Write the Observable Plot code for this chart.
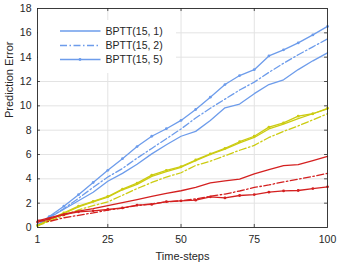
<!DOCTYPE html>
<html>
<head>
<meta charset="utf-8">
<script src="https://cdn.jsdelivr.net/npm/d3@7"></script>
<script src="https://cdn.jsdelivr.net/npm/@observablehq/plot@0.6"></script>
<style>
  html, body { margin: 0; padding: 0; background: #fff; }
  svg { font-family: "Liberation Sans", Arial, sans-serif; }
</style>
</head>
<body>
<div id="chart"></div>
<script>
const steps = [1,5,10,15,20,25,30,35,40,45,50,55,60,65,70,75,80,85,90,95,100];
const xTicks = [1,25,50,75,100];
const yTicks = [0,2,4,6,8,10,12,14,16,18];
const legendLabels = ["BPTT(15, 1)", "BPTT(15, 2)", "BPTT(15, 5)"];

const blue1   = [0.2,0.8,1.5,2.2,2.9,3.8,4.45,5.2,6.05,6.8,7.5,7.9,8.8,9.84,10.15,11.0,11.75,12.14,12.98,13.7,14.35];
const blue2   = [0.2,0.85,1.55,2.4,3.3,4.15,4.85,5.7,6.5,7.3,8.1,9.0,9.8,10.55,11.3,11.95,12.75,13.5,14.2,14.85,15.5];
const blue5   = [0.2,0.9,1.75,2.7,3.7,4.7,5.66,6.65,7.5,8.12,8.8,9.7,10.71,11.75,12.49,12.97,14.1,14.6,15.17,15.83,16.53];
const yellow1 = [0.15,0.6,1.15,1.7,2.1,2.5,3.1,3.55,4.2,4.6,4.95,5.5,6.0,6.45,6.95,7.4,8.1,8.5,8.95,9.35,9.75];
const yellow2 = [0.15,0.5,1.0,1.45,1.8,2.1,2.65,3.2,3.7,4.15,4.5,5.1,5.45,5.9,6.35,6.75,7.4,7.9,8.35,8.85,9.35];
const yellow5 = [0.15,0.65,1.2,1.75,2.15,2.55,3.15,3.65,4.3,4.7,5.0,5.55,6.05,6.5,7.05,7.5,8.25,8.6,9.15,9.35,9.8];
const red1    = [0.55,0.8,1.1,1.35,1.55,1.8,2.05,2.3,2.55,2.8,3.02,3.3,3.66,3.83,3.97,4.4,4.76,5.09,5.17,5.5,5.85];
const red2    = [0.6,0.5,0.8,1.0,1.2,1.43,1.6,1.8,1.95,2.1,2.2,2.35,2.57,2.75,3.0,3.29,3.5,3.75,3.97,4.2,4.45];
const red5    = [0.45,0.7,1.05,1.29,1.37,1.48,1.61,1.84,1.9,2.12,2.19,2.25,2.52,2.43,2.63,2.71,2.9,3.01,3.04,3.2,3.34];

const BLUE = "#6d9ceb", YELLOW = "#cccc12", RED = "#d42020";
const DASHDOT = "7,2.5,1.5,2.5";
const INK = "#262626";

const seriesDefs = [
  {vals: blue1, color: BLUE, style: "solid"},
  {vals: blue2, color: BLUE, style: "dashdot"},
  {vals: blue5, color: BLUE, style: "marker"},
  {vals: yellow1, color: YELLOW, style: "solid"},
  {vals: yellow2, color: YELLOW, style: "dashdot"},
  {vals: yellow5, color: YELLOW, style: "marker"},
  {vals: red1, color: RED, style: "solid"},
  {vals: red2, color: RED, style: "dashdot"},
  {vals: red5, color: RED, style: "marker"}
];

const toRows = (vals) => steps.map((s, i) => ({x: s, y: vals[i]}));

const lineMarks = [];
for (const s of seriesDefs) {
  const rows = toRows(s.vals);
  lineMarks.push(Plot.line(rows, {
    x: "x", y: "y", stroke: s.color, strokeWidth: 1.3,
    strokeDasharray: s.style === "dashdot" ? DASHDOT : null
  }));
  if (s.style === "marker") {
    lineMarks.push(Plot.dot(rows, {x: "x", y: "y", r: 1.4, fill: s.color, stroke: "none"}));
  }
}

const innerX = [25, 50, 75];
const innerY = [2,4,6,8,10,12,14,16];

const chart = Plot.plot({
  width: 339,
  height: 263,
  marginLeft: 37,
  marginRight: 12,
  marginTop: 8,
  marginBottom: 36,
  style: {fontFamily: "Liberation Sans, Arial, sans-serif", fontSize: "10.5px", color: INK, background: "#fff"},
  x: {domain: [1, 100]},
  y: {domain: [0, 18]},
  marks: [
    Plot.gridX(innerX, {stroke: "#e3e3e3", strokeOpacity: 1, strokeWidth: 1}),
    Plot.gridY(innerY, {stroke: "#e3e3e3", strokeOpacity: 1, strokeWidth: 1}),
    Plot.axisX(xTicks, {tickSize: 0, tickPadding: 8, fill: INK, fontSize: 10.5, label: null}),
    Plot.axisY(yTicks, {tickSize: 0, tickPadding: 6, fill: INK, fontSize: 10.5, label: null}),
    ...lineMarks,
    Plot.ruleX(innerX, {y1: 0, y2: 0.25, stroke: INK, strokeWidth: 0.8}),
    Plot.ruleX(innerX, {y1: 18, y2: 17.75, stroke: INK, strokeWidth: 0.8}),
    Plot.ruleY(innerY, {x1: 1, x2: 2.0, stroke: INK, strokeWidth: 0.8}),
    Plot.ruleY(innerY, {x1: 100, x2: 99, stroke: INK, strokeWidth: 0.8}),
    Plot.frame({stroke: INK, strokeWidth: 0.9}),
    Plot.text(["Time-steps"], {frameAnchor: "bottom", dy: 32, fill: INK, fontSize: 11}),
    Plot.text(["Prediction Error"], {frameAnchor: "left", dx: -28, rotate: -90, fill: INK, fontSize: 11})
  ]
});

// Legend (blue styles only), drawn on top with a white background
const svg = d3.select(chart);
const lg = svg.append("g").attr("text-anchor", "start");
lg.append("rect").attr("x", 38).attr("y", 20).attr("width", 138).attr("height", 53).attr("fill", "#fff");
const rowsY = [31, 45.5, 59.5];
const styles = ["solid", "dashdot", "marker"];
legendLabels.forEach((lab, i) => {
  const y = rowsY[i];
  lg.append("line").attr("x1", 60).attr("x2", 100.5).attr("y1", y).attr("y2", y)
    .attr("stroke", BLUE).attr("stroke-width", 1.3)
    .attr("stroke-dasharray", styles[i] === "dashdot" ? DASHDOT : null);
  if (styles[i] === "marker") {
    lg.append("circle").attr("cx", 80).attr("cy", y).attr("r", 1.4).attr("fill", BLUE);
  }
  lg.append("text").attr("x", 105.5).attr("y", y).attr("dy", "0.35em")
    .attr("text-anchor", "start")
    .attr("fill", INK).attr("font-size", 10.5).text(lab);
});

document.getElementById("chart").appendChild(chart);
</script>
</body>
</html>
